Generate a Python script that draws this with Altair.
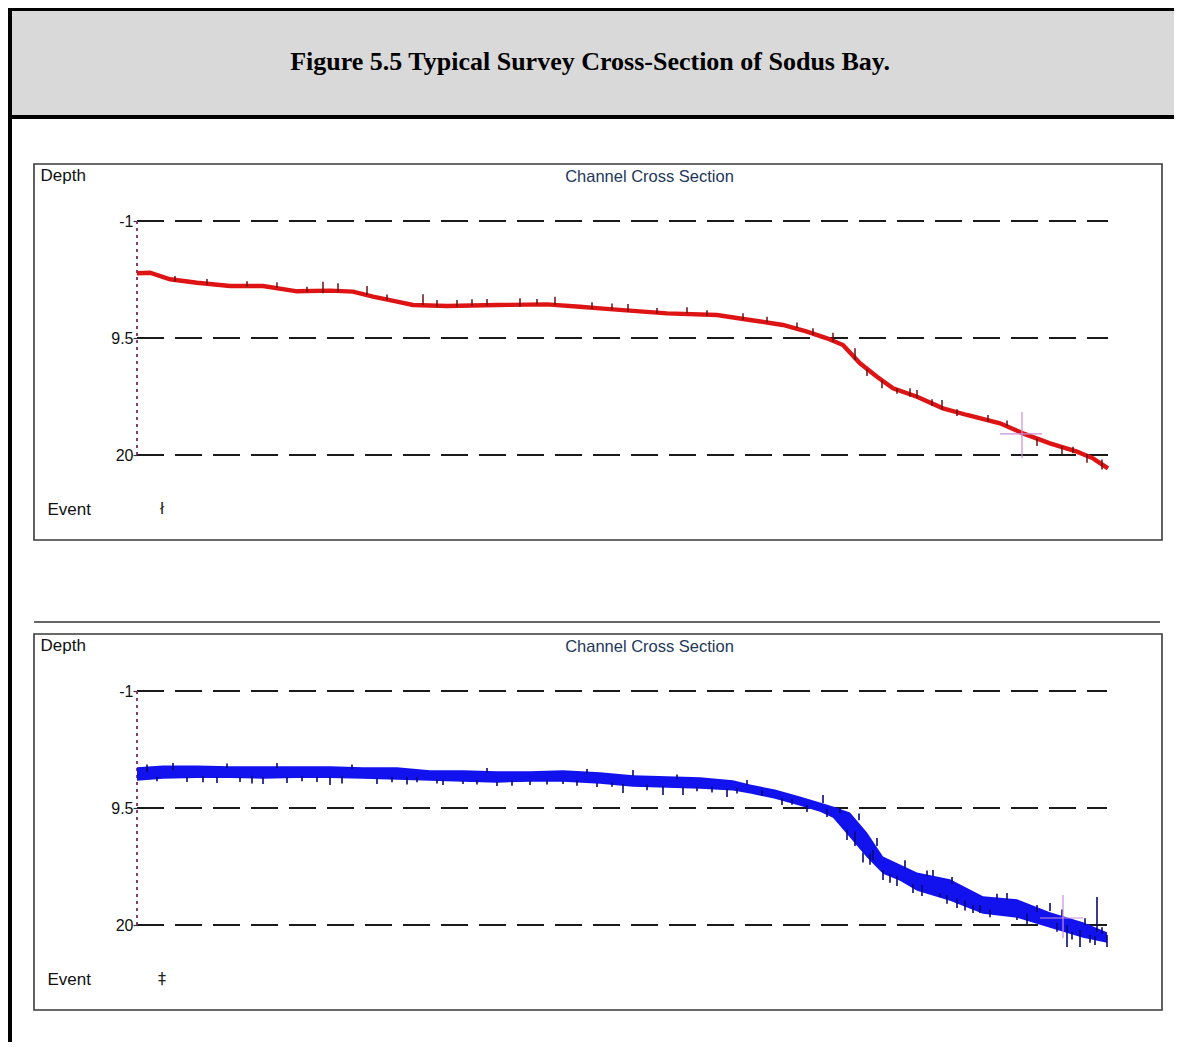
import altair as alt
import pandas as pd

# ---------------- text ----------------
FIG_TITLE = "Figure 5.5 Typical Survey Cross-Section of Sodus Bay."
PANEL_TITLE = "Channel Cross Section"
Y_TITLE = "Depth"
EVENT_LABEL = "Event"
DEPTH_TICKS = [-1, 9.5, 20]

# ---------------- top survey (red) ----------------
red_dist = [0, 13, 33, 60, 93, 126, 160, 193, 216, 236, 260, 276, 310, 360, 410, 443, 463, 486,
            530, 580, 613, 646, 670, 690, 706, 723, 740, 756, 780, 806, 830, 863, 886, 913, 940, 956, 971]
red_depth = [3.69, 3.64, 4.23, 4.54, 4.83, 4.83, 5.31, 5.25, 5.34, 5.79, 6.24, 6.54, 6.63, 6.54, 6.48, 6.69,
             6.84, 7.0, 7.29, 7.44, 7.88, 8.33, 8.93, 9.53, 10.13, 11.77, 12.97, 14.02, 14.77, 15.81, 16.41,
             17.16, 18.06, 18.95, 19.7, 20.3, 21.2]
red_spike_dist = [38, 186, 201, 230, 286, 335, 383, 418, 491, 550, 606, 676, 696, 718, 773, 780, 805, 851, 936,
                  70, 110, 140, 170, 250, 300, 320, 350, 400, 455, 475, 520, 570, 630, 660, 730, 745, 760, 795,
                  820, 870, 900, 925, 950, 965]
red_spike_top = [3.94, 4.45, 4.59, 4.83, 5.58, 6.03, 5.94, 5.79, 6.45, 6.75, 7.29, 8.63, 9.02, 10.42, 14.02,
                 14.17, 15.06, 16.41, 19.25,
                 4.2, 4.4, 4.5, 4.9, 5.6, 6.1, 6.1, 6.0, 6.0, 6.3, 6.4, 6.8, 7.0, 7.6, 8.1, 12.3, 13.3, 14.0,
                 15.0, 15.9, 16.9, 18.5, 19.2, 19.9, 20.4]
red_spike_bot = [4.45, 5.49, 5.34, 5.64, 6.54, 6.63, 6.69, 6.54, 7.14, 7.29, 7.88, 9.23, 9.83, 11.47, 14.77,
                 14.91, 15.96, 17.01, 19.85,
                 4.7, 4.9, 5.0, 5.4, 6.1, 6.7, 6.7, 6.6, 6.5, 6.9, 7.0, 7.3, 7.5, 8.1, 8.6, 12.9, 14.0, 14.5,
                 15.6, 16.5, 17.4, 19.2, 19.9, 20.7, 21.3]
red_cross = {"x": 885, "y": 18.11, "x0": 863, "x1": 905, "y0": 16.14, "y1": 20.27}
red_event_dist = [25]

# ---------------- bottom survey (blue) ----------------
blue_dist = [0, 26, 60, 93, 126, 160, 193, 226, 260, 293, 326, 360, 393, 426, 463, 496, 530, 563, 596, 613,
             638, 663, 683, 696, 713, 730, 746, 763, 780, 813, 846, 880, 913, 946, 970]
blue_top = [5.85, 5.68, 5.68, 5.76, 5.76, 5.76, 5.76, 5.85, 5.85, 6.12, 6.12, 6.21, 6.21, 6.12, 6.30, 6.57,
            6.66, 6.75, 7.02, 7.40, 7.84, 8.47, 9.00, 9.36, 9.90, 11.70, 13.85, 14.57, 15.28, 15.90, 17.43,
            17.70, 18.86, 19.76, 20.66]
blue_bot = [7.05, 6.88, 6.80, 6.80, 6.88, 6.80, 6.80, 6.88, 6.96, 7.05, 7.14, 7.23, 7.14, 7.14, 7.32, 7.59,
            7.68, 7.77, 7.94, 8.20, 8.66, 9.29, 9.83, 10.37, 12.15, 13.95, 15.39, 16.02, 16.92, 17.82, 18.98,
            19.34, 20.24, 21.14, 21.59]
blue_spike_dist = [36, 50, 80, 103, 126, 140, 150, 180, 193, 240, 306, 326, 360, 393, 426, 460, 486, 496, 526,
                   546, 590, 610, 645, 670, 686, 703, 710, 726, 736, 746, 753, 776, 796, 803, 820, 836, 843,
                   870, 880, 913, 930, 943, 953, 960, 970,
                   10, 20, 66, 90, 115, 165, 205, 215, 255, 270, 280, 300, 340, 350, 375, 410, 440, 450, 475,
                   510, 540, 560, 575, 600, 625, 655, 690, 718, 722, 733, 740, 760, 768, 785, 790, 810, 815,
                   828, 853, 860, 890, 900, 920, 925, 935, 948, 958, 965]
blue_spike_top = [5.46, 6.72, 6.72, 6.72, 6.72, 5.46, 6.72, 6.72, 6.72, 6.81, 6.99, 7.08, 7.17, 7.08, 7.08,
                  7.26, 7.35, 6.09, 7.53, 7.62, 7.80, 6.99, 8.60, 9.23, 8.33, 9.50, 11.47, 13.5, 13.3, 15.06,
                  15.4, 16.32, 15.06, 17.13, 17.58, 18.2, 18.2, 17.13, 19.28, 18.03, 20.0, 20.45, 20.9, 17.49, 20.9,
                  5.6, 6.7, 6.6, 5.5, 6.6, 6.6, 6.6, 5.6, 6.7, 6.7, 6.7, 6.9, 7.0, 5.9, 7.0, 7.0, 7.0, 6.0, 7.2,
                  7.4, 6.5, 7.6, 7.6, 7.7, 7.9, 8.7, 9.6, 11.6, 10.0, 13.6, 12.2, 15.6, 14.2, 16.4, 15.1, 17.3,
                  15.7, 17.8, 18.6, 17.2, 19.0, 18.2, 19.8, 18.6, 20.6, 19.4, 21.0, 20.2]
blue_spike_bot = [6.09, 7.17, 7.26, 7.17, 7.35, 5.91, 7.26, 7.17, 7.44, 7.35, 7.44, 7.35, 7.53, 7.44, 7.35,
                  7.62, 8.15, 6.63, 8.33, 8.33, 8.51, 7.44, 9.23, 9.86, 9.05, 9.95, 12.37, 14.4, 14.2, 15.96,
                  16.2, 17.13, 15.6, 17.49, 18.47, 18.92, 18.92, 17.76, 19.55, 18.74, 21.97, 21.97, 21.6, 20.63, 21.97,
                  6.3, 7.1, 7.2, 5.9, 7.3, 7.1, 7.3, 6.0, 7.2, 7.4, 7.2, 7.3, 7.4, 6.3, 7.5, 7.4, 7.5, 6.4, 7.6,
                  7.9, 6.9, 8.0, 8.1, 8.2, 8.4, 9.2, 10.3, 12.9, 10.6, 14.6, 12.9, 16.5, 14.9, 17.4, 15.6, 18.1,
                  16.3, 18.7, 19.3, 17.7, 19.9, 18.8, 20.6, 19.2, 21.3, 20.0, 21.8, 20.8]
blue_cross = {"x": 926, "y": 19.37, "x0": 903, "x1": 946, "y0": 17.31, "y1": 21.17}
blue_event_dist = [25]

# ---------------- layout (page pixels) ----------------
LEFT = 12          # page x of the views' left edge
TOP = 11           # page y of the header view's top edge
W = 1162           # view width
HEADER_H = 104
AXIS_X = 137       # page x of the depth axis
FONT = "Liberation Sans"
ONE = pd.DataFrame({"k": [0]})


def bar(x0, x1, y0, y1, color="black"):
    return alt.Chart(ONE).mark_rect(color=color).encode(
        x=alt.value(x0), x2=alt.value(x1), y=alt.value(y0), y2=alt.value(y1))


def panel(kind, view_top, H, tm1, t20, box_top, box_bot, title_y, depth_y, event_y, glyph, sep_y=None):
    px_per = (t20 - tm1) / (DEPTH_TICKS[-1] - DEPTH_TICKS[0])
    ymin = DEPTH_TICKS[0] - (tm1 - view_top) / px_per
    ymax = DEPTH_TICKS[0] + (view_top + H - tm1) / px_per
    xs = alt.Scale(domain=[LEFT - AXIS_X, LEFT + W - AXIS_X], nice=False, zero=False)
    ys = alt.Scale(domain=[ymin, ymax], reverse=True, nice=False, zero=False)
    xaxis = alt.Axis(title=EVENT_LABEL, labels=False, ticks=False, domain=False, grid=False,
                     offset=-(view_top + H - event_y), titleX=47 - LEFT, titleY=0,
                     titleAlign="left", titleBaseline="middle", titleFont=FONT, titleFontSize=17,
                     titleFontWeight="normal", titleColor="#111")
    yaxis = alt.Axis(title=Y_TITLE, values=DEPTH_TICKS, labelExpr="datum.value + ''", domain=False,
                     grid=False, ticks=True, tickSize=4, tickColor="#333", tickWidth=1.2,
                     labelPadding=0, labelFont=FONT, labelFontSize=16, labelColor="#111",
                     offset=-(AXIS_X - LEFT), titleAngle=0, titleX=40 - AXIS_X, titleY=depth_y - view_top,
                     titleAlign="left", titleBaseline="middle", titleFont=FONT, titleFontSize=17,
                     titleFontWeight="normal", titleColor="#111", labelOverlap=False)

    def X(f):
        return alt.X(f, type="quantitative", scale=xs, axis=xaxis)

    def Y(f):
        return alt.Y(f, type="quantitative", scale=ys, axis=yaxis)

    layers = []
    # outer page border (left side)
    layers.append(bar(-4, 0, 0, H))
    # panel frame
    layers.append(alt.Chart(ONE).mark_rect(fillOpacity=0, stroke="#3a3a3a", strokeWidth=1.6).encode(
        x=alt.value(34 - LEFT), x2=alt.value(1162 - LEFT),
        y=alt.value(box_top - view_top), y2=alt.value(box_bot - view_top)))
    if sep_y is not None:
        layers.append(alt.Chart(ONE).mark_rule(color="#333", strokeWidth=1.6).encode(
            x=alt.value(34 - LEFT), x2=alt.value(1160 - LEFT), y=alt.value(sep_y - view_top)))

    dist = red_dist if kind == "red" else blue_dist
    grid = pd.DataFrame({"depth": DEPTH_TICKS, "x0": [dist[0]] * 3, "x1": [dist[-1]] * 3})
    layers.append(alt.Chart(grid).mark_rule(color="#1a1a1a", strokeWidth=1.8, strokeDash=[27, 11]).encode(
        x=X("x0"), x2="x1", y=Y("depth")))
    vline = pd.DataFrame({"x": [dist[0]], "y0": [DEPTH_TICKS[0]], "y1": [DEPTH_TICKS[-1]]})
    layers.append(alt.Chart(vline).mark_rule(color="#7a2a60", strokeWidth=1.8, strokeDash=[3, 4]).encode(
        x=X("x"), y=Y("y0"), y2="y1"))

    if kind == "red":
        df = pd.DataFrame({"dist": red_dist, "depth": red_depth})
        layers.append(alt.Chart(df).mark_line(color="#de1414", strokeWidth=4.4).encode(
            x=X("dist"), y=Y("depth")))
        sp = pd.DataFrame({"dist": red_spike_dist, "top": red_spike_top, "bot": red_spike_bot})
        layers.append(alt.Chart(sp).mark_rule(color="#6a1010", strokeWidth=1.5).encode(
            x=X("dist"), y=Y("top"), y2="bot"))
        cross = red_cross
        ev = red_event_dist
    else:
        df = pd.DataFrame({"dist": blue_dist, "top": blue_top, "bot": blue_bot})
        layers.append(alt.Chart(df).mark_area(color="#1212ee", opacity=1).encode(
            x=X("dist"), y=Y("top"), y2="bot"))
        sp = pd.DataFrame({"dist": blue_spike_dist, "top": blue_spike_top, "bot": blue_spike_bot})
        layers.append(alt.Chart(sp).mark_rule(color="#0a0a70", strokeWidth=1.6).encode(
            x=X("dist"), y=Y("top"), y2="bot"))
        cross = blue_cross
        ev = blue_event_dist

    cv = pd.DataFrame({"x": [cross["x"]], "y0": [cross["y0"]], "y1": [cross["y1"]]})
    ch = pd.DataFrame({"x0": [cross["x0"]], "x1": [cross["x1"]], "y": [cross["y"]]})
    layers.append(alt.Chart(cv).mark_rule(color="#c98fd9", strokeWidth=1.2).encode(
        x=X("x"), y=Y("y0"), y2="y1"))
    layers.append(alt.Chart(ch).mark_rule(color="#c98fd9", strokeWidth=1.2).encode(
        x=X("x0"), x2="x1", y=Y("y")))

    evdf = pd.DataFrame({"dist": ev, "g": [glyph] * len(ev)})
    layers.append(alt.Chart(evdf).mark_text(font="DejaVu Sans", fontSize=16, color="#222").encode(
        x=X("dist"), y=alt.value(event_y - view_top), text="g"))

    return alt.layer(*layers).properties(
        width=W, height=H,
        view=alt.ViewBackground(fill="white", stroke="transparent", strokeWidth=0),
        title=alt.TitleParams(PANEL_TITLE, anchor="middle", frame="group", orient="top", offset=0,
                              dx=(AXIS_X + 1162) / 2 - (LEFT + W / 2), dy=title_y - view_top + 17,
                              baseline="middle", font=FONT, fontSize=16.5, fontWeight="normal",
                              color="#22375a"))


header_text = alt.Chart(pd.DataFrame({"t": [FIG_TITLE]})).mark_text(
    font="Liberation Serif", fontWeight="bold", fontSize=26, color="black").encode(
    text="t", x=alt.value(590 - LEFT), y=alt.value(62 - TOP))
header = alt.layer(
    bar(-4, W, -3, 0),                       # top border
    bar(-4, 0, 0, HEADER_H + 4),             # left border
    bar(-4, W, HEADER_H, HEADER_H + 4),      # bottom border
    header_text,
).properties(width=W, height=HEADER_H,
             view=alt.ViewBackground(fill="#d9d9d9", stroke="transparent", strokeWidth=0))

p1 = panel("red", 119, 461, 221, 455, 164, 540, 176, 175, 509, "ł")
p2 = panel("blue", 580, 462, 691, 925, 634, 1010, 646, 645, 979, "‡", sep_y=622)

chart = alt.vconcat(header, alt.vconcat(p1, p2, spacing=0), spacing=0).properties(
    background="white", padding=0
).configure_view(strokeWidth=0)

chart.save("out.html", embed_options={"renderer": "svg", "actions": False})
